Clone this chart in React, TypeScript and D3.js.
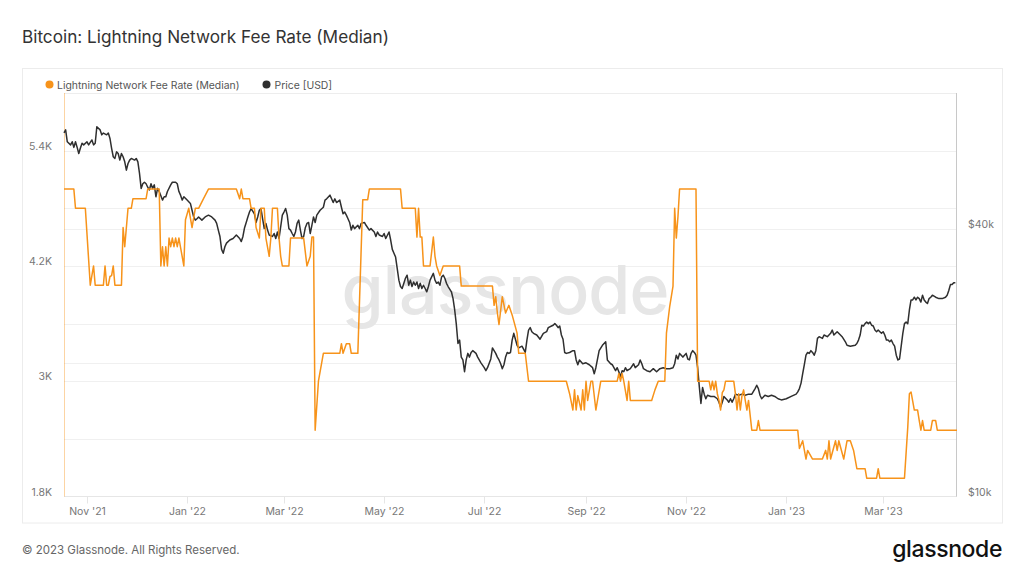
import React from "react";
import * as d3 from "d3";

// ---- data ----
const startDate = "2021-10-18";
const endDate = "2023-04-15";

// Lightning Network fee rate (median): day offset from startDate, value
const feeDays = [
  0, 6, 7, 13, 16, 18, 19, 24, 25, 26, 27, 28, 29, 30, 31, 35, 36, 37, 38, 39, 41, 42, 50, 51, 58, 59, 60, 61, 62, 63,
  64, 65, 66, 67, 68, 69, 70, 73, 74, 76, 78, 80, 82, 85, 88, 105, 107, 108, 109, 113, 114, 116, 117, 119, 120, 122,
  123, 125, 126, 127, 130, 131, 132, 133, 137, 138, 146, 148, 150, 151, 152, 153, 155, 158, 168, 169, 170, 172, 174,
  175, 179, 182, 185, 186, 205, 206, 214, 215, 216, 217, 218, 219, 223, 225, 226, 227, 229, 231, 241, 242, 261, 262,
  263, 264, 265, 267, 269, 271, 273, 276, 277, 281, 283, 306, 308, 310, 311, 312, 313, 315, 316, 317, 318, 319, 321,
  322, 324, 325, 327, 337, 338, 339, 340, 341, 343, 344, 345, 358, 360, 362, 366, 367, 369, 371, 372, 373, 374, 375,
  385, 386, 393, 394, 395, 396, 397, 398, 399, 400, 401, 402, 403, 408, 409, 410, 411, 412, 413, 414, 415, 416, 417,
  419, 422, 423, 424, 447, 448, 450, 452, 453, 456, 462, 464, 465, 466, 467, 470, 471, 472, 475, 477, 479, 481, 483,
  488, 489, 495, 496, 497, 512, 514, 515, 516, 518, 520, 521, 522, 523, 524, 528, 529, 531, 532, 544,
];
const feeRate = [
  5000, 5000, 4800, 4800, 4000, 4200, 4000, 4000, 4200, 4000, 4000, 4090, 4100, 4200, 4000, 4000, 4600, 4400, 4600,
  4800, 4800, 4900, 4900, 5000, 5000, 4200, 4400, 4200, 4400, 4200, 4490, 4400, 4490, 4400, 4490, 4400, 4490, 4200,
  4680, 4800, 4600, 4800, 4800, 4900, 5000, 5000, 4900, 5000, 4900, 4900, 4800, 4800, 4600, 4490, 4800, 4800, 4490,
  4300, 4490, 4800, 4800, 4490, 4300, 4200, 4200, 4490, 4490, 4200, 4300, 4500, 4500, 2490, 3000, 3290, 3290, 3390,
  3290, 3390, 3390, 3290, 3290, 4890, 4890, 5000, 5000, 4800, 4800, 4500, 4800, 4500, 4500, 4200, 4200, 4500, 4300,
  4200, 4100, 4200, 4200, 3990, 3990, 3790, 3880, 3710, 3590, 3880, 3710, 3790, 3690, 3500, 3290, 3290, 3000, 3000,
  2870, 2700, 2910, 2700, 2850, 2700, 2910, 2700, 3000, 2800, 3000, 3000, 2700, 2800, 3000, 3000, 3080, 3000, 3080,
  3000, 2800, 3000, 2800, 2800, 2910, 3000, 3000, 3500, 3780, 3990, 4800, 4490, 4710, 5000, 5000, 3000, 3000, 2910,
  3000, 2910, 3000, 2870, 2800, 2700, 2880, 2910, 3000, 3000, 2870, 2700, 2870, 2700, 2850, 2910, 2800, 2700, 2800,
  2490, 2490, 2590, 2490, 2490, 2300, 2380, 2190, 2280, 2190, 2190, 2280, 2190, 2380, 2190, 2380, 2280, 2380, 2190,
  2380, 2380, 2280, 2090, 2090, 1990, 1990, 2090, 1990, 1990, 2520, 2870, 2888, 2700, 2700, 2590, 2490, 2590, 2490,
  2490, 2590, 2590, 2490, 2490,
];

// BTC price in thousands of USD: day offset from startDate, value
const priceDays = [
  0, 1, 2, 4, 5, 6, 7, 8, 9, 10, 11, 12, 14, 15, 17, 18, 19, 20, 22, 23, 24, 26, 27, 28, 29, 30, 31, 32, 33, 34, 35, 36,
  37, 38, 39, 40, 41, 43, 44, 45, 46, 47, 48, 49, 50, 51, 52, 53, 54, 55, 56, 57, 58, 60, 61, 62, 63, 65, 66, 68, 69,
  70, 71, 72, 73, 75, 77, 78, 79, 80, 81, 82, 84, 86, 88, 90, 92, 93, 94, 95, 96, 97, 98, 99, 101, 103, 105, 107, 108,
  109, 110, 111, 112, 113, 114, 116, 117, 118, 119, 120, 121, 122, 123, 124, 125, 127, 128, 129, 130, 131, 133, 134,
  135, 136, 137, 138, 139, 140, 141, 142, 143, 144, 145, 146, 147, 148, 149, 150, 151, 152, 153, 154, 156, 158, 159,
  160, 162, 163, 164, 165, 166, 168, 169, 170, 171, 172, 173, 174, 175, 176, 177, 179, 180, 181, 183, 184, 186, 187,
  189, 190, 191, 192, 194, 195, 196, 198, 199, 200, 201, 202, 203, 204, 205, 206, 208, 209, 210, 211, 212, 213, 214,
  215, 216, 217, 218, 219, 220, 221, 222, 223, 225, 226, 227, 228, 229, 230, 231, 232, 233, 234, 236, 237, 238, 239,
  240, 241, 242, 243, 244, 245, 246, 247, 248, 249, 251, 252, 254, 256, 257, 258, 260, 261, 263, 264, 265, 266, 267,
  268, 269, 270, 271, 272, 273, 274, 275, 276, 277, 279, 281, 282, 283, 284, 285, 286, 288, 290, 292, 294, 295, 297,
  298, 299, 300, 301, 302, 303, 304, 305, 306, 308, 310, 311, 312, 313, 314, 316, 318, 320, 322, 323, 324, 326, 328,
  329, 330, 331, 333, 334, 336, 337, 338, 339, 340, 341, 342, 343, 345, 347, 348, 350, 351, 352, 353, 355, 357, 359,
  361, 363, 365, 367, 369, 371, 372, 373, 374, 375, 377, 379, 380, 381, 382, 383, 384, 385, 386, 387, 388, 389, 390,
  391, 392, 394, 396, 398, 399, 400, 401, 402, 404, 405, 406, 407, 408, 409, 411, 413, 415, 417, 419, 421, 422, 423,
  424, 425, 427, 429, 431, 433, 435, 437, 440, 443, 446, 447, 448, 449, 450, 451, 452, 453, 454, 455, 456, 457, 458,
  459, 460, 462, 463, 465, 467, 468, 469, 471, 473, 474, 476, 477, 479, 482, 483, 484, 485, 486, 487, 488, 489, 490,
  491, 492, 493, 494, 495, 496, 497, 498, 499, 500, 501, 502, 503, 504, 505, 506, 507, 508, 509, 510, 511, 512, 513,
  514, 515, 516, 517, 518, 519, 520, 521, 522, 523, 524, 525, 526, 527, 528, 529, 531, 533, 535, 537, 538, 539, 540,
  541, 542, 543,
];
const priceUsdK = [
  65.9, 66.9, 62.9, 61.9, 62.9, 61.1, 62.9, 61.1, 59.2, 60.9, 62.4, 61.9, 62.9, 61.9, 63.5, 61.9, 62.4, 68.0, 66.9,
  65.2, 65.8, 65.2, 65.8, 64.0, 60.8, 58.2, 57.7, 59.7, 59.2, 57.2, 59.2, 58.2, 56.7, 54.3, 56.2, 57.2, 57.7, 57.2,
  57.7, 56.7, 53.4, 49.4, 50.6, 51.0, 50.6, 49.7, 49.0, 50.6, 49.4, 50.3, 47.3, 49.4, 48.6, 46.5, 47.3, 47.3, 48.6,
  50.3, 51.0, 51.0, 50.6, 48.6, 47.7, 46.5, 47.3, 46.5, 45.7, 44.1, 42.6, 41.9, 42.2, 42.6, 41.9, 42.6, 43.0, 42.6,
  41.9, 41.2, 39.8, 38.5, 36.0, 35.3, 36.5, 37.2, 37.8, 38.1, 38.8, 38.1, 37.5, 38.5, 40.3, 41.4, 42.6, 43.7, 44.5,
  43.3, 41.4, 42.6, 44.1, 44.5, 42.2, 40.1, 41.2, 39.8, 38.8, 38.5, 39.1, 38.1, 39.4, 38.1, 43.0, 43.7, 44.5, 43.0,
  40.1, 39.8, 39.1, 38.5, 39.4, 41.2, 41.9, 39.8, 38.1, 38.5, 40.3, 41.2, 41.4, 39.1, 40.8, 42.6, 41.4, 43.0, 44.1,
  44.8, 46.5, 46.8, 47.7, 46.8, 45.9, 46.8, 45.9, 46.5, 44.8, 43.3, 43.7, 43.0, 42.2, 41.4, 39.8, 40.8, 40.1, 40.8,
  40.1, 41.2, 41.4, 40.8, 39.8, 40.1, 39.4, 38.5, 39.4, 38.8, 38.5, 39.1, 38.1, 39.4, 37.8, 36.0, 35.3, 34.6, 32.6,
  30.7, 29.7, 29.4, 31.0, 31.5, 29.9, 30.7, 29.7, 30.4, 29.9, 30.4, 29.4, 30.2, 29.4, 29.9, 29.4, 28.9, 29.7, 30.7,
  31.8, 30.7, 30.2, 30.4, 29.9, 31.2, 31.5, 31.0, 30.2, 29.7, 28.9, 27.9, 26.3, 24.4, 22.1, 22.5, 20.6, 20.3, 19.1,
  20.3, 21.0, 20.6, 21.1, 21.3, 21.0, 20.6, 20.0, 19.5, 19.2, 19.5, 20.4, 21.6, 21.0, 20.6, 20.3, 19.9, 19.4, 19.8,
  20.6, 21.1, 21.0, 21.1, 22.5, 23.3, 22.6, 21.9, 21.6, 21.8, 21.1, 22.5, 23.7, 24.0, 23.5, 23.3, 23.1, 22.6, 23.3,
  23.5, 24.0, 24.2, 24.3, 24.5, 24.3, 24.0, 24.2, 23.1, 22.6, 21.1, 21.0, 21.1, 21.3, 21.3, 20.3, 19.8, 20.3, 19.9,
  20.0, 19.8, 19.5, 18.9, 19.5, 21.3, 21.9, 22.1, 22.3, 20.3, 19.9, 19.8, 19.2, 19.5, 19.1, 18.6, 19.2, 19.1, 19.5,
  19.2, 19.4, 19.9, 19.5, 19.8, 20.3, 19.9, 19.4, 19.2, 19.1, 19.4, 19.1, 19.4, 19.5, 19.4, 19.4, 19.5, 19.9, 20.8,
  20.4, 21.0, 20.6, 21.0, 20.4, 20.3, 21.0, 21.3, 21.1, 20.8, 19.5, 17.7, 16.2, 17.6, 17.0, 16.6, 16.9, 16.8, 16.8,
  16.6, 16.3, 15.9, 16.3, 16.8, 16.5, 16.3, 16.6, 16.3, 16.6, 17.0, 16.9, 17.0, 16.9, 17.0, 17.0, 17.5, 17.8, 17.5,
  16.9, 16.6, 16.9, 16.8, 16.9, 16.8, 16.6, 16.5, 16.6, 16.8, 17.0, 17.2, 17.5, 18.0, 18.9, 19.8, 20.8, 21.1, 21.0,
  21.3, 21.1, 20.8, 21.3, 22.7, 22.9, 22.7, 23.1, 22.9, 23.3, 23.7, 23.1, 23.5, 23.1, 22.9, 22.3, 21.9, 21.8, 21.9,
  22.1, 22.5, 23.1, 24.3, 24.2, 24.5, 24.7, 24.5, 24.7, 24.3, 24.2, 23.7, 23.5, 23.7, 23.5, 23.3, 23.5, 23.1, 22.5,
  22.5, 22.3, 22.5, 22.1, 21.8, 20.8, 20.3, 20.4, 21.8, 23.3, 24.5, 24.7, 24.5, 26.3, 27.7, 27.7, 28.1, 27.7, 28.1,
  27.9, 27.4, 28.4, 27.7, 27.4, 27.2, 27.9, 28.1, 28.4, 28.1, 27.9, 27.9, 28.1, 28.4, 29.1, 30.0, 30.0, 30.3, 30.3,
];

// axis ticks
const feeGridTicks = [1800, 2400, 3000, 3600, 4200, 4800, 5400];
const feeLabelTicks = [1800, 3000, 4200, 5400];
const priceGridTicks = [10, 20, 40];
const priceLabelTicks = [10, 40];
const monthTicks = [
  "2021-11-01", "2022-01-01", "2022-03-01", "2022-05-01", "2022-07-01",
  "2022-09-01", "2022-11-01", "2023-01-01", "2023-03-01",
];

const FONT = "Inter, 'Noto Sans', sans-serif";
const ORANGE = "#f7931a";
const DARK = "#2f2f2f";

export default function App() {
  const parse = d3.timeParse("%Y-%m-%d");
  const t0 = parse(startDate) as Date;
  const t1 = parse(endDate) as Date;
  const left = 64, right = 957, top = 93, bottom = 496.5;

  const x = d3.scaleTime().domain([t0, t1]).range([left, right]);
  const yFee = d3.scaleLinear().domain([1800, 6000]).range([bottom, top]);
  const yPrice = d3.scaleLog().domain([10, 81]).range([bottom, top]);
  const dayX = (d: number) => x(d3.timeDay.offset(t0, d));

  const feeLine = d3
    .line<number>()
    .x((_, i) => dayX(feeDays[i]))
    .y((v) => yFee(v));
  const priceLine = d3
    .line<number>()
    .x((_, i) => dayX(priceDays[i]))
    .y((v) => yPrice(v));

  const fmtMonth = d3.timeFormat("%b '%y");
  const fmtFee = (v: number) => `${d3.format(".2~f")(v / 1000)}K`;

  return (
    <div style={{ position: "absolute", left: 0, top: 0 }}>
      <svg width={1024} height={576} style={{ display: "block", background: "#fff" }} fontFamily={FONT}>
        <rect x={0} y={0} width={1024} height={576} fill="#fff" />
        <text x={22} y={43} fontSize={17.2} fill="#333" fontWeight={400}>
          Bitcoin: Lightning Network Fee Rate (Median)
        </text>
        {/* outer card */}
        <rect x={22.5} y={68.5} width={980} height={454.5} fill="none" stroke="#ececec" strokeWidth={1} />

        {/* legend */}
        <circle cx={49.5} cy={84.5} r={4} fill={ORANGE} />
        <text x={57} y={88.5} fontSize={10.4} fill="#555">Lightning Network Fee Rate (Median)</text>
        <circle cx={266.5} cy={84.5} r={4} fill={DARK} />
        <text x={274.5} y={88.5} fontSize={10.4} fill="#555">Price [USD]</text>

        {/* gridlines */}
        <line x1={left} x2={right} y1={top + 0.5} y2={top + 0.5} stroke="#ededed" />
        {feeGridTicks.slice(1).map((t) => (
          <line key={"fg" + t} x1={left} x2={right} y1={Math.round(yFee(t)) + 0.5} y2={Math.round(yFee(t)) + 0.5} stroke="#f0f0f0" />
        ))}
        {priceGridTicks.slice(1).map((t) => (
          <line key={"pg" + t} x1={left} x2={right} y1={Math.round(yPrice(t)) + 0.5} y2={Math.round(yPrice(t)) + 0.5} stroke="#f0f0f0" />
        ))}

        {/* watermark */}
        <text x={505} y={314} fontSize={68} textAnchor="middle" fill="#e6e6e6" fontWeight={500} letterSpacing={-0.9}>
          glassnode
        </text>

        {/* x axis */}
        <line x1={left} x2={right} y1={bottom} y2={bottom} stroke="#e6e6e6" />
        {monthTicks.map((s) => {
          const d = parse(s) as Date;
          const px = Math.round(x(d)) + 0.5;
          return (
            <g key={s}>
              <line x1={px} x2={px} y1={bottom} y2={bottom + 7} stroke="#e6e6e6" />
              <text x={px} y={515} fontSize={10.5} fill="#777" textAnchor="middle">
                {fmtMonth(d)}
              </text>
            </g>
          );
        })}

        {/* left axis */}
        <line x1={left + 0.5} x2={left + 0.5} y1={top} y2={bottom} stroke={ORANGE} strokeOpacity={0.4} />
        {feeLabelTicks.map((t) => (
          <text key={"fl" + t} x={52} y={yFee(t) - 1} fontSize={10.5} fill="#777" textAnchor="end">
            {fmtFee(t)}
          </text>
        ))}

        {/* right axis */}
        <line x1={right - 0.5} x2={right - 0.5} y1={top} y2={bottom} stroke="#c8c8c8" />
        {priceLabelTicks.map((t) => (
          <text key={"pl" + t} x={968} y={yPrice(t) - 1} fontSize={10.5} fill="#777">
            {`$${t}k`}
          </text>
        ))}

        {/* series */}
        <path d={priceLine(priceUsdK) || ""} fill="none" stroke={DARK} strokeWidth={1.5} strokeLinejoin="round" />
        <path d={feeLine(feeRate) || ""} fill="none" stroke={ORANGE} strokeWidth={1.5} strokeLinejoin="round" />

        {/* footer */}
        <text x={22} y={554} fontSize={11.5} fill="#666">© 2023 Glassnode. All Rights Reserved.</text>
        <text x={1002} y={557} fontSize={23} fill="#111" textAnchor="end" fontWeight={500} letterSpacing={-0.4}>
          glassnode
        </text>
      </svg>
    </div>
  );
}
